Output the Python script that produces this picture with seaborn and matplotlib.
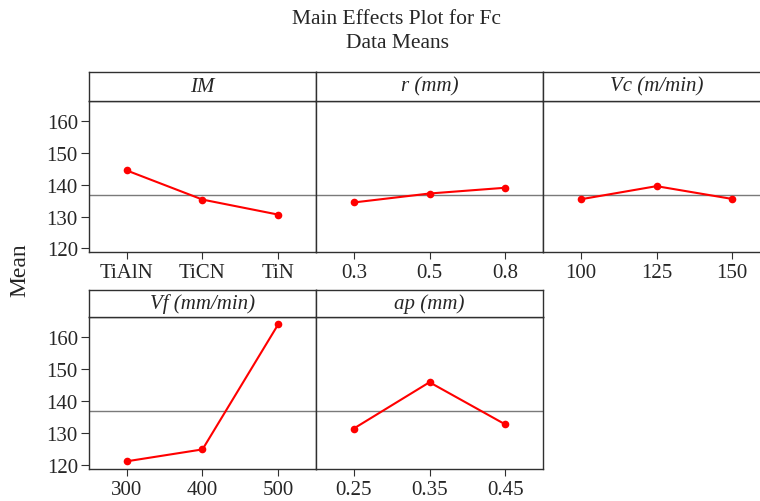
import pandas as pd
import matplotlib

matplotlib.use("Agg")
import matplotlib.pyplot as plt
import seaborn as sns

# Factors and their levels
factors = ["IM", "r (mm)", "Vc (m/min)", "Vf (mm/min)", "ap (mm)"]
levels_im = ["TiAlN", "TiCN", "TiN"]
levels_r = ["0.3", "0.5", "0.8"]
levels_vc = ["100", "125", "150"]
levels_vf = ["300", "400", "500"]
levels_ap = ["0.25", "0.35", "0.45"]

# Mean of Fc at each level
means_im = [144.4, 135.3, 130.6]
means_r = [134.4, 137.2, 139.0]
means_vc = [135.4, 139.5, 135.5]
means_vf = [121.3, 125.0, 163.9]
means_ap = [131.5, 145.9, 132.8]

grand_mean = 136.8
y_ticks = [120, 130, 140, 150, 160]


def build_frame():
    rows = []
    all_levels = [levels_im, levels_r, levels_vc, levels_vf, levels_ap]
    all_means = [means_im, means_r, means_vc, means_vf, means_ap]
    for factor, levels, means in zip(factors, all_levels, all_means):
        for i, (lvl, m) in enumerate(zip(levels, means)):
            rows.append({"Factor": factor, "Level": lvl, "Pos": i, "Mean": m})
    return pd.DataFrame(rows)


def main():
    df = build_frame()

    sns.set_style("ticks")
    plt.rcParams["font.family"] = ["Liberation Serif", "DejaVu Serif"]

    W, H = 760, 502
    fig = plt.figure(figsize=(W / 100, H / 100), dpi=100)

    # panel geometry in pixels: (axes top, axes bottom, strip top)
    col_left = [89, 316, 543]
    pw = 227
    rows_px = [(101.5, 253, 73), (317.7, 470, 290.7)]
    frame_col = "#303030"

    for k, factor in enumerate(factors):
        r, c = divmod(k, 3)
        top, bottom, strip_top = rows_px[r]
        left = col_left[c]
        ax = fig.add_axes([left / W, (H - bottom) / H, pw / W, (bottom - top) / H])
        sax = fig.add_axes([left / W, (H - top) / H, pw / W, (top - strip_top) / H])

        sub = df[df["Factor"] == factor]
        ax.axhline(grand_mean, color="#7a7a7a", lw=1.0, zorder=1)
        sns.lineplot(
            data=sub, x="Pos", y="Mean", ax=ax, color="#ff0000", lw=1.5,
            marker="o", markersize=5.5, markeredgewidth=0, zorder=3,
        )
        ax.set_xlim(-0.5, 2.5)
        ax.set_ylim(118.9, 166.3)
        ax.set_xticks([0, 1, 2])
        ax.set_xticklabels(sub["Level"].tolist())
        ax.set_xlabel("")
        ax.set_ylabel("")
        ax.tick_params(axis="x", labelsize=15, length=5, width=0.8,
                       color=frame_col, pad=3)
        if c == 0:
            ax.set_yticks(y_ticks)
            ax.tick_params(axis="y", labelsize=15, length=6, width=0.8,
                           color=frame_col, pad=2)
        else:
            ax.set_yticks([])
        for sp in ax.spines.values():
            sp.set_visible(True)
            sp.set_color(frame_col)
            sp.set_linewidth(1.0)

        sax.set_xticks([])
        sax.set_yticks([])
        for sp in sax.spines.values():
            sp.set_visible(True)
            sp.set_color(frame_col)
            sp.set_linewidth(1.0)
        sax.text(0.5, 0.5, factor, transform=sax.transAxes, ha="center",
                 va="center", fontsize=15, style="italic")

    fig.text(20 / W, 1 - 270 / H, "Mean", rotation=90, ha="center",
             va="center", fontsize=17)
    fig.text(397 / W, 1 - 20 / H, "Main Effects Plot for Fc", ha="center",
             va="center", fontsize=15.5)
    fig.text(397 / W, 1 - 43 / H, "Data Means", ha="center", va="center",
             fontsize=15.5)

    fig.savefig("out.png", dpi=100)


if __name__ == "__main__":
    main()
